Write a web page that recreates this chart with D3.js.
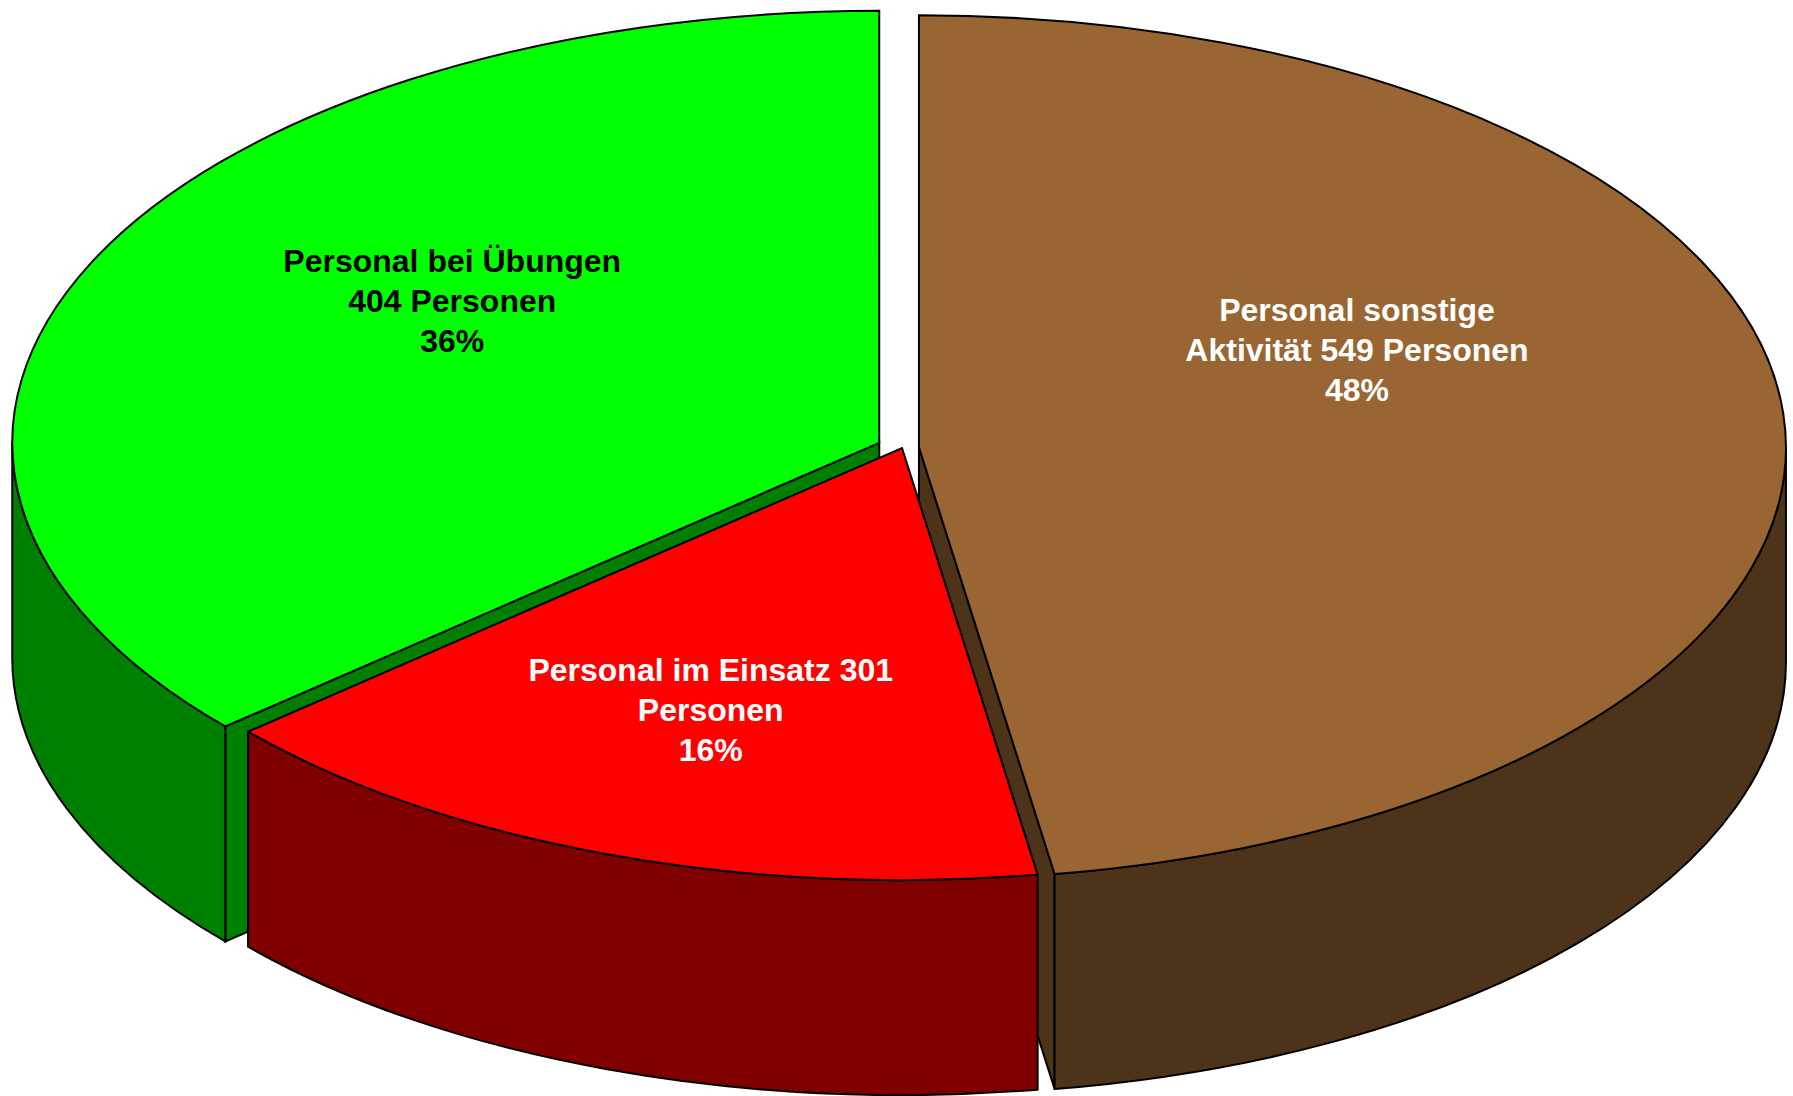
<!DOCTYPE html>
<html>
<head>
<meta charset="utf-8">
<script src="https://cdn.jsdelivr.net/npm/d3@7/dist/d3.min.js"></script>
<style>
  html, body { margin: 0; padding: 0; background: #ffffff; }
  svg { display: block; }
</style>
</head>
<body>
<svg id="chart" width="1793" height="1096"></svg>
<script>
// ---- data (clockwise from 12 o'clock) ----
const categories = ["Personal sonstige Aktivität", "Personal im Einsatz", "Personal bei Übungen"];
const persons = [549, 301, 404];
const shares = [47.5, 16.1, 36.4];          // slice sizes as drawn
const percentLabels = ["48%", "16%", "36%"];
const labelLines = [
  ["Personal sonstige", "Aktivität 549 Personen", "48%"],
  ["Personal im Einsatz 301", "Personen", "16%"],
  ["Personal bei Übungen", "404 Personen", "36%"]
];

// ---- styles / layout ----
const topColors  = ["#996633", "#FF0000", "#00FF00"];
const wallColors = ["#4C3319", "#800000", "#008000"];
const faceColors = ["#4C3319", "#800000", "#008000"];
const textColors = ["#FFFFFF", "#FFFFFF", "#000000"];
const explode = [17, 0, 25];
const labelPos = [ {a: 66, r: 0.553}, {a: 200, r: 0.645}, {a: 303.7, r: 0.592} ];

const W = 1793, H = 1096;
const cx = 902, cy = 448, rx = 867, ry = 432, depth = 215;

const svg = d3.select("#chart");
svg.append("rect").attr("width", W).attr("height", H).attr("fill", "#fff");

const data = categories.map((c, i) => ({ cat: c, persons: persons[i], share: shares[i], i }));
const arcs = d3.pie().sort(null).value(d => d.share).startAngle(0).endAngle(2 * Math.PI)(data);

arcs.forEach(a => {
  const m = (a.startAngle + a.endAngle) / 2;
  const e = explode[a.data.i];
  a.mid = m;
  a.o = { x: cx + e * Math.sin(m), y: cy - e * Math.cos(m) * (ry / rx) };
});

function pt(o, ang, dy = 0) {
  return [o.x + rx * Math.sin(ang), o.y - ry * Math.cos(ang) + dy];
}
function P(p) { return p[0].toFixed(2) + "," + p[1].toFixed(2); }

function topPath(a) {
  const o = a.o, p1 = pt(o, a.startAngle), p2 = pt(o, a.endAngle);
  const large = (a.endAngle - a.startAngle) > Math.PI ? 1 : 0;
  return `M${o.x},${o.y} L${P(p1)} A${rx},${ry} 0 ${large} 1 ${P(p2)} Z`;
}
function wallPath(a) {
  const a1 = Math.max(a.startAngle, Math.PI / 2), a2 = Math.min(a.endAngle, 3 * Math.PI / 2);
  if (a2 <= a1) return null;
  const o = a.o;
  const large = (a2 - a1) > Math.PI ? 1 : 0;
  return `M${P(pt(o, a1))} A${rx},${ry} 0 ${large} 1 ${P(pt(o, a2))} L${P(pt(o, a2, depth))} A${rx},${ry} 0 ${large} 0 ${P(pt(o, a1, depth))} Z`;
}
function facePath(a, ang) {
  const o = a.o;
  return `M${o.x},${o.y} L${P(pt(o, ang))} L${P(pt(o, ang, depth))} L${o.x},${o.y + depth} Z`;
}

const stroke = { "stroke": "#000", "stroke-width": 2, "stroke-linejoin": "miter" };
function styled(sel) { Object.entries(stroke).forEach(([k, v]) => sel.attr(k, v)); return sel; }

const sides = svg.append("g");
const order = arcs.slice().sort((p, q) => Math.abs(q.mid - Math.PI) - Math.abs(p.mid - Math.PI));
order.forEach(a => {
  const i = a.data.i;
  if (Math.sin(a.startAngle) < -1e-6)
    styled(sides.append("path").attr("d", facePath(a, a.startAngle)).attr("fill", faceColors[i]));
  if (Math.sin(a.endAngle) > 1e-6)
    styled(sides.append("path").attr("d", facePath(a, a.endAngle)).attr("fill", faceColors[i]));
  const w = wallPath(a);
  if (w) styled(sides.append("path").attr("d", w).attr("fill", wallColors[i]));
});

const tops = svg.append("g");
arcs.forEach(a => {
  styled(tops.append("path").attr("d", topPath(a)).attr("fill", topColors[a.data.i]));
});

const labels = svg.append("g")
  .attr("font-family", "'Liberation Sans', Arial, sans-serif")
  .attr("font-weight", "bold").attr("font-size", 32).attr("text-anchor", "middle");
arcs.forEach(a => {
  const i = a.data.i, lp = labelPos[i];
  const ang = lp.a * Math.PI / 180;
  const x = a.o.x + lp.r * rx * Math.sin(ang);
  const y = a.o.y - lp.r * ry * Math.cos(ang);
  const lines = labelLines[i];
  const lh = 40;
  const t = labels.append("text").attr("fill", textColors[i]);
  lines.forEach((s, k) => {
    t.append("tspan").attr("x", x).attr("y", y + (k - (lines.length - 1) / 2) * lh + 11).text(s);
  });
});
</script>
</body>
</html>
